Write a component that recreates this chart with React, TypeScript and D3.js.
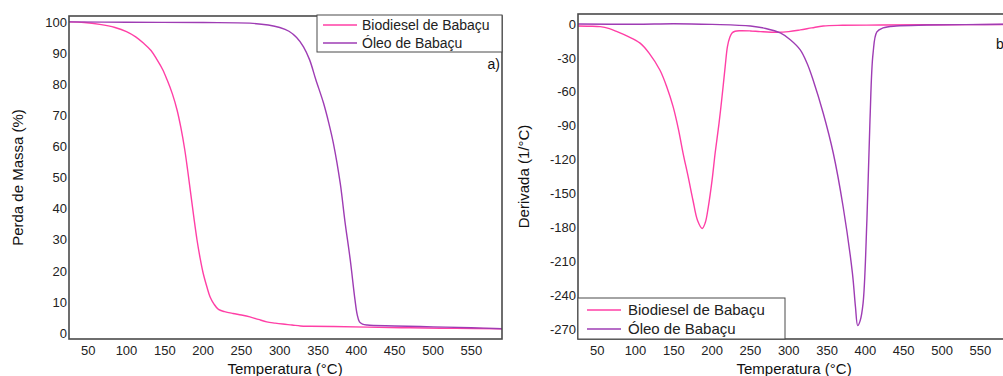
import React from "react";
import * as d3 from "d3";

// TG curves (mass loss %) — temperature in °C
const tgBioT = [25, 45, 65, 85, 100, 112, 122, 132, 140, 147, 153, 160, 166, 171, 176, 180, 184, 188, 192, 196, 200, 205, 209, 214, 220, 228, 239, 250, 261, 272, 283, 294, 304, 316, 327, 340, 370, 414, 470, 530, 590];
const tgBioV = [100, 99.8, 99.2, 98.2, 96.9, 95.2, 93.2, 90.8, 87.8, 84.8, 81.4, 76.8, 71.7, 66, 59, 52, 44.5, 37, 30, 24.2, 19.3, 14.8, 11.7, 9.4, 7.6, 6.9, 6.3, 5.8, 5.2, 4.4, 3.6, 3.2, 2.9, 2.6, 2.3, 2.2, 2.1, 1.9, 1.7, 1.5, 1.4];
const tgOleoT = [25, 100, 200, 261, 285, 300, 312, 322, 331, 339, 347, 357, 364, 370, 379, 385, 392, 398, 401, 404, 408, 414, 450, 500, 550, 590];
const tgOleoV = [100, 99.9, 99.8, 99.6, 99, 98.2, 97, 95, 92, 87.8, 81.5, 74, 67.5, 61, 48, 36, 23.5, 11, 6, 3.6, 2.9, 2.6, 2.3, 2, 1.7, 1.4];

// DTG curves (1/°C)
const dtgBioT = [25, 40, 54, 66, 76, 90, 106, 118, 132, 141, 149, 156, 162, 169, 175, 181, 187, 191, 195, 200, 204, 209, 213, 217, 220, 223, 226, 230, 236, 250, 263, 285, 300, 315, 330, 345, 370, 420, 500, 590];
const dtgBioV = [-1.8, -2, -2.4, -4.2, -6.8, -11, -17, -26, -41, -56, -73, -93, -114, -136, -156, -174, -181, -176, -162, -138, -114, -88, -64, -38, -20, -12, -8, -6.5, -6, -6.2, -6.8, -7.4, -6.8, -5.3, -3.5, -1.8, -1.2, -1, -0.7, -0.5];
const dtgOleoT = [25, 100, 150, 200, 250, 270, 289, 302, 315, 324, 332, 345, 358, 371, 383, 387, 390, 393, 397, 402, 406, 410, 415, 423, 440, 480, 530, 590];
const dtgOleoV = [0, -0.3, 0.2, -0.4, -1.8, -4, -8, -14, -23, -35, -50, -79, -114, -162, -220, -250, -267, -263, -247, -173, -85, -26, -7, -3.5, -1.8, -1, -0.6, -0.2];

const xTicks = [50, 100, 150, 200, 250, 300, 350, 400, 450, 500, 550];
const tgTicks = [0, 10, 20, 30, 40, 50, 60, 70, 80, 90, 100];
const dtgTicks = [0, -30, -60, -90, -120, -150, -180, -210, -240, -270];
const seriesNames = ["Biodiesel de Babaçu", "Óleo de Babaçu"];

const PINK = "#ff3fa6";
const PURPLE = "#9e3cb4";
const FRAME = "#4a4a4a";
const FONT = "Liberation Sans, Arial, sans-serif";

type Panel = {
  left: number; right: number; top: number; bottom: number;
  yDomain: [number, number]; yTicks: number[];
  series: { t: number[]; v: number[]; color: string }[];
};

function zip(t: number[], v: number[]) {
  return t.map((d, i) => [d, v[i]] as [number, number]);
}

function Chart({ p, id, yTitle, yTitleX }: { p: Panel; id: string; yTitle: string; yTitleX: number }) {
  const x = d3.scaleLinear().domain([25, 590]).range([p.left, p.right]);
  const y = d3.scaleLinear().domain(p.yDomain).range([p.bottom, p.top]);
  const line = d3.line<[number, number]>().x((d) => x(d[0])).y((d) => y(d[1])).curve(d3.curveCatmullRom.alpha(0.5));
  const midY = (p.top + p.bottom) / 2;
  return (
    <g>
      <defs>
        <clipPath id={id}>
          <rect x={p.left} y={p.top} width={p.right - p.left} height={p.bottom - p.top} />
        </clipPath>
      </defs>
      <g clipPath={`url(#${id})`}>
        {p.series.map((s, i) => (
          <path key={i} d={line(zip(s.t, s.v)) || ""} fill="none" stroke={s.color} strokeWidth={1.4} />
        ))}
      </g>
      <rect x={p.left} y={p.top} width={p.right - p.left} height={p.bottom - p.top} fill="none" stroke={FRAME} strokeWidth={1.6} />
      {p.yTicks.map((t) => (
        <text key={t} x={p.left - 2} y={y(t)} dy="0.36em" textAnchor="end" fontSize={13} fill="#222" fontFamily={FONT}>{t}</text>
      ))}
      {xTicks.map((t) => (
        <text key={t} x={x(t)} y={p.bottom + 11} dy="0.36em" textAnchor="middle" fontSize={13} fill="#222" fontFamily={FONT}>{t}</text>
      ))}
      <text x={x(307)} y={369} dy="0.36em" textAnchor="middle" fontSize={15} fill="#111" fontFamily={FONT}>Temperatura (°C)</text>
      <text transform={`translate(${yTitleX},${midY}) rotate(-90)`} dy="0.36em" textAnchor="middle" fontSize={15} fill="#111" fontFamily={FONT}>{yTitle}</text>
    </g>
  );
}

export default function App() {
  const left: Panel = {
    left: 69, right: 502, top: 16, bottom: 339,
    yDomain: [-1.9, 101.9], yTicks: tgTicks,
    series: [{ t: tgBioT, v: tgBioV, color: PINK }, { t: tgOleoT, v: tgOleoV, color: PURPLE }],
  };
  const right: Panel = {
    left: 578, right: 1011, top: 14, bottom: 339,
    yDomain: [-278.8, 8.8], yTicks: dtgTicks,
    series: [{ t: dtgBioT, v: dtgBioV, color: PINK }, { t: dtgOleoT, v: dtgOleoV, color: PURPLE }],
  };
  const colors = [PINK, PURPLE];
  return (
    <svg width={1003} height={376} style={{ position: "absolute", left: 0, top: 0, background: "#fff" }}>
      <Chart p={left} id="clipA" yTitle="Perda de Massa (%)" yTitleX={18} />
      <Chart p={right} id="clipB" yTitle="Derivada (1/°C)" yTitleX={524} />

      {/* legend a */}
      <rect x={317} y={15} width={185} height={37} fill="#fff" stroke={FRAME} strokeWidth={1} />
      {seriesNames.map((n, i) => (
        <g key={n}>
          <line x1={323} x2={357} y1={25 + i * 18} y2={25 + i * 18} stroke={colors[i]} strokeWidth={1.4} />
          <text x={362} y={25 + i * 18} dy="0.36em" fontSize={14} fill="#222" fontFamily={FONT}>{n}</text>
        </g>
      ))}
      <text x={500} y={64} dy="0.36em" textAnchor="end" fontSize={14} fill="#111" fontFamily={FONT}>a)</text>

      {/* legend b */}
      <rect x={578} y={298} width={207} height={41} fill="#fff" stroke={FRAME} strokeWidth={1} />
      {seriesNames.map((n, i) => (
        <g key={n}>
          <line x1={587} x2={621} y1={310 + i * 19} y2={310 + i * 19} stroke={colors[i]} strokeWidth={1.4} />
          <text x={628} y={310 + i * 19} dy="0.36em" fontSize={15} fill="#222" fontFamily={FONT}>{n}</text>
        </g>
      ))}
      <text x={996} y={44} dy="0.36em" fontSize={14} fill="#111" fontFamily={FONT}>b)</text>
    </svg>
  );
}
